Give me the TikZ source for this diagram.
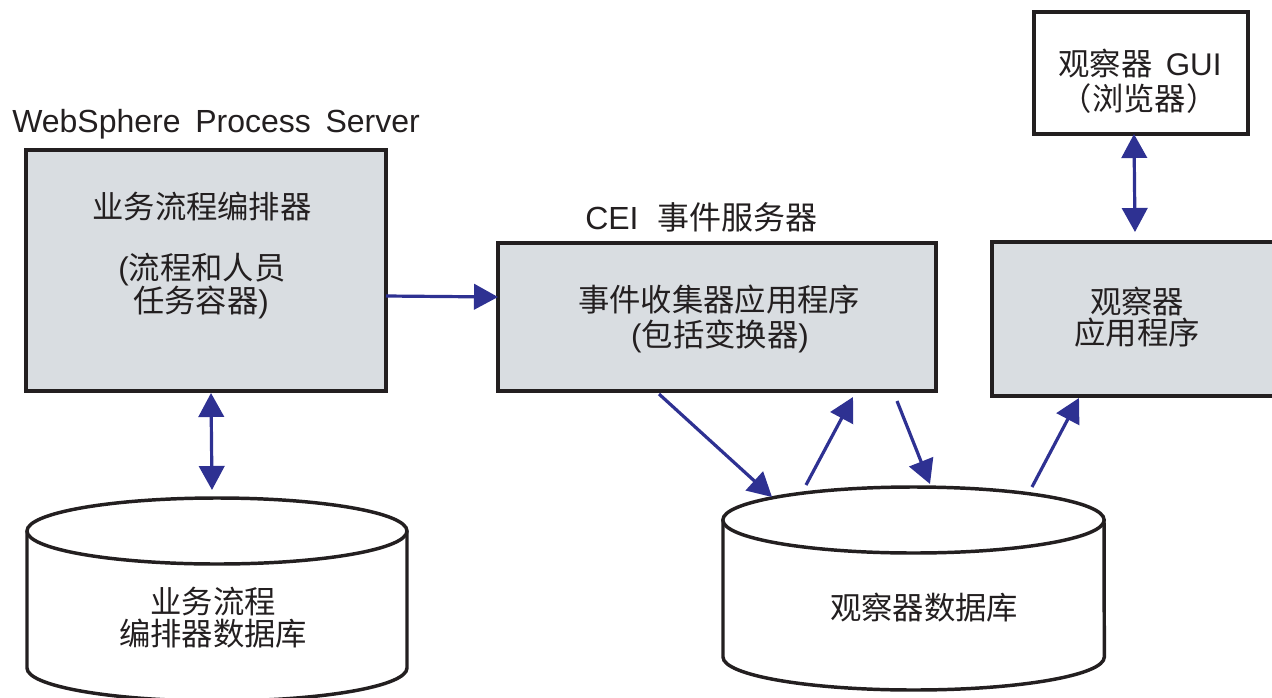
\documentclass[tikz,border=0pt]{standalone}
\usepackage{fontspec}
\setmainfont{Liberation Sans}
\newfontfamily\cjk{Noto Sans CJK SC}
\usetikzlibrary{arrows.meta,calc}
\definecolor{boxfill}{HTML}{D9DDE1}
\definecolor{arrowblue}{HTML}{2E3192}
\definecolor{ink}{HTML}{231F20}
\tikzset{
  box/.style={draw=ink, line width=2.8pt, fill=boxfill, inner sep=0pt, outer sep=0pt},
  whitebox/.style={draw=ink, line width=2.8pt, fill=white, inner sep=0pt, outer sep=0pt},
  cyl/.style={draw=ink, line width=2.6pt, fill=white},
  lbl/.style={text=ink, inner sep=0pt, font=\cjk\fontsize{23.5pt}{28pt}\selectfont},
  title/.style={text=ink, inner sep=0pt, font=\fontsize{24pt}{28pt}\selectfont},
  flow/.style={draw=arrowblue, line width=2.4pt, -{Triangle[length=18pt,width=19pt]}},
  flow2/.style={draw=arrowblue, line width=2.4pt, {Triangle[length=18pt,width=19pt]}-{Triangle[length=18pt,width=19pt]}}
}
\begin{document}
\begin{tikzpicture}[x=0.75pt,y=-0.75pt]
\useasboundingbox (0,0) rectangle (1272,697);
\clip (0,0) rectangle (1272,697);

% boxes
\node[box, minimum width=270pt, minimum height=180.75pt] (box1) at (206,270.5) {};
\node[box, minimum width=328.5pt, minimum height=111pt] (box2) at (717,317) {};
\node[box, minimum width=223.5pt, minimum height=115.5pt] (box3) at (1141,319) {};
\node[whitebox, minimum width=160.5pt, minimum height=91.5pt] (box4) at (1141,73) {};

% cylinders
\draw[cyl] (27,531) -- (27,668) arc[start angle=180, end angle=360, x radius=142.5pt, y radius=24.75pt] -- (407,531);
\draw[cyl] (217,531) ellipse [x radius=142.5pt, y radius=24.75pt];
\coordinate (db1top) at (212,490);
\draw[cyl] (723,520) -- (723,657) arc[start angle=180, end angle=360, x radius=143pt, y radius=24.75pt] -- (1104,520);
\draw[cyl] (913.5,520) ellipse [x radius=143pt, y radius=24.75pt];

% titles
\node[title, anchor=west] (wps) at (12,124) {WebSphere\hspace{11pt}Process\hspace{11pt}Server};
\node[title, anchor=west] (cei) at (585,217) {CEI\hspace{14pt}{\cjk 事件服务器}};

% box texts
\node[lbl] (t1a) at (202,206) {业务流程编排器};
\node[lbl] (t1b) at (202,270) {{\fontspec{Liberation Sans}(}流程和人员};
\node[lbl] (t1c) at (201,302) {任务容器{\fontspec{Liberation Sans})}};
\node[lbl] (t2a) at (719,300) {事件收集器应用程序};
\node[lbl] (t2b) at (720,336) {{\fontspec{Liberation Sans}(}包括变换器{\fontspec{Liberation Sans})}};
\node[lbl] (t3a) at (1137,302) {观察器};
\node[lbl] (t3b) at (1137,333) {应用程序};
\node[lbl] (t4a) at (1140,64) {观察器\hspace{10pt}{\fontspec{Liberation Sans}GUI}};
\node[lbl] (t4b) at (1139,99) {（浏览器）};
\node[lbl] (t5a) at (213,602) {业务流程};
\node[lbl] (t5b) at (213,634) {编排器数据库};
\node[lbl] (t6) at (924,608) {观察器数据库};

% connector end points
\coordinate (a1s) at (659,394);
\coordinate (a1e) at (772,497);
\coordinate (a2s) at (806,485);
\coordinate (a2e) at (853,397);
\coordinate (a3s) at (897,401);
\coordinate (a3e) at (930,484);
\coordinate (a4s) at (1032,487);
\coordinate (a4e) at (1079,398);
\coordinate (g1) at (1134,134);
\coordinate (g2) at (1135,232);
\coordinate (w1) at (211,393);

% connectors
\draw[flow] (box1.east |- 0,296) -- (box2.west |- 0,297);
\draw[flow2] (w1) -- (db1top);
\draw[flow2] (g1) -- (g2);
\draw[flow] (a1s) -- (a1e);
\draw[flow] (a2s) -- (a2e);
\draw[flow] (a3s) -- (a3e);
\draw[flow] (a4s) -- (a4e);
\end{tikzpicture}
\end{document}
